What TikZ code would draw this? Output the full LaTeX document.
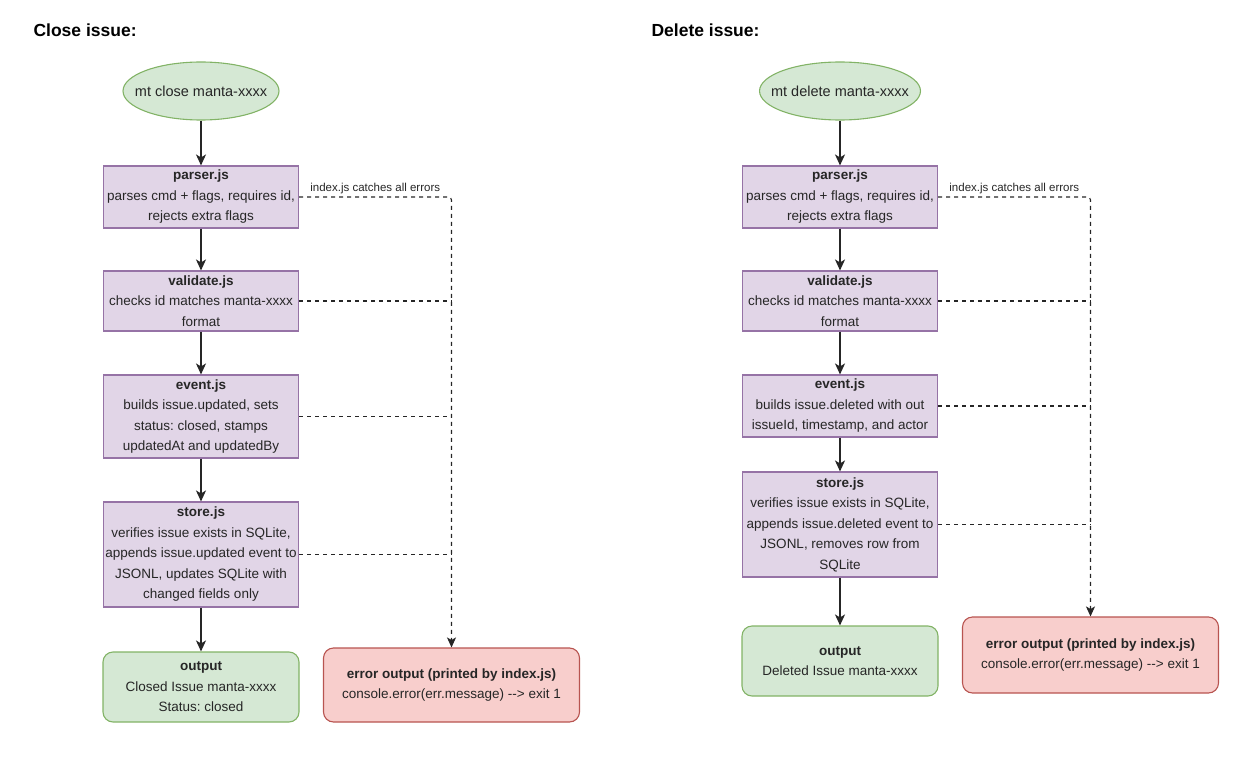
\documentclass[tikz,border=0pt]{standalone}
\usepackage{fontspec}
\setmainfont{Liberation Sans}
\usetikzlibrary{arrows.meta,shapes.geometric}
\frenchspacing

\definecolor{procfill}{HTML}{E1D5E7}
\definecolor{procline}{HTML}{9673A6}
\definecolor{okfill}{HTML}{D5E8D4}
\definecolor{okline}{HTML}{82B366}
\definecolor{errfill}{HTML}{F8CECC}
\definecolor{errline}{HTML}{B85450}
\definecolor{txt}{HTML}{262626}

\tikzset{
  body/.style={font=\fontsize{13.5}{20.5}\selectfont, text=txt, align=center, inner sep=2pt, line width=1.1pt},
  proc/.style={body, draw=procline, fill=procfill, minimum width=195},
  startnode/.style={body, ellipse, draw=okline, fill=okfill, minimum width=156, minimum height=58,
    inner xsep=-12pt, inner ysep=0pt, font=\fontsize{14.5}{17}\selectfont},
  outbox/.style={body, draw=okline, fill=okfill, rounded corners=10pt, minimum width=196},
  errbox/.style={body, draw=errline, fill=errfill, rounded corners=10pt, minimum width=256},
  flow/.style={-{Stealth[length=11pt,width=10pt,inset=3pt]}, line width=1.5pt, black!85},
  catch/.style={dash pattern=on 4pt off 4pt, line width=1.1pt, black!85},
  heading/.style={font=\fontsize{17.5}{20}\selectfont\bfseries, anchor=west},
  note/.style={font=\fontsize{11.5}{13}\selectfont, text=txt, above, inner sep=3pt}
}

\begin{document}
\begin{tikzpicture}[x=1pt, y={(0pt,-1pt)}]
    \useasboundingbox (0,0) rectangle (1244,762);

    % ---------------- close issue ----------------
    \node[heading] (ctitle) at (30,30) {Close issue:};
    \node[startnode] (cstart) at (201,91) {mt close manta-xxxx};
    \node[proc, minimum height=62] (cparser) at (201,197)
        {\textbf{parser.js}\\parses cmd + flags, requires id,\\rejects extra flags};
    \node[proc, minimum height=60] (cvalidate) at (201,301)
        {\textbf{validate.js}\\checks id matches manta-xxxx\\format};
    \node[proc, minimum height=83] (cevent) at (201,416.5)
        {\textbf{event.js}\\builds issue.updated, sets\\status: closed, stamps\\updatedAt and updatedBy};
    \node[proc, minimum height=105] (cstore) at (201,554.5)
        {\textbf{store.js}\\verifies issue exists in SQLite,\\appends issue.updated event to\\JSONL, updates SQLite with\\changed fields only};
    \node[outbox, minimum height=70] (cout) at (201,687)
        {\textbf{output}\\Closed Issue manta-xxxx\\Status: closed};
    \node[errbox, minimum height=74] (cerr) at (451.5,685)
        {\textbf{error output (printed by index.js)}\\console.error(err.message) {-}{-}> exit 1};

    \draw[flow] (cstart) -- (cparser);
    \draw[flow] (cparser) -- (cvalidate);
    \draw[flow] (cvalidate) -- (cevent);
    \draw[flow] (cevent) -- (cstore);
    \draw[flow] (cstore) -- (cout);

    % errors go to index.js
    \draw[catch, rounded corners=3pt, -{Stealth[length=10pt,width=9pt,inset=2.5pt]}]
        (cparser.east) -| node[note, pos=0.25] {index.js catches all errors} (cerr.north);
    \foreach \n in {cvalidate,cevent,cstore}
        \draw[catch] (\n.east) -- (\n.east -| cerr.north);

    % ---------------- delete issue ----------------
    \node[heading] (dtitle) at (648,30) {Delete issue:};
    \node[startnode] (dstart) at (840,91) {mt delete manta-xxxx};
    \node[proc, minimum height=62] (dparser) at (840,197)
        {\textbf{parser.js}\\parses cmd + flags, requires id,\\rejects extra flags};
    \node[proc, minimum height=60] (dvalidate) at (840,301)
        {\textbf{validate.js}\\checks id matches manta-xxxx\\format};
    \node[proc, minimum height=62] (devent) at (840,406)
        {\textbf{event.js}\\builds issue.deleted with out\\issueId, timestamp, and actor};
    \node[proc, minimum height=105] (dstore) at (840,524.5)
        {\textbf{store.js}\\verifies issue exists in SQLite,\\appends issue.deleted event to\\JSONL, removes row from\\SQLite};
    \node[outbox, minimum height=70] (dout) at (840,661)
        {\textbf{output}\\Deleted Issue manta-xxxx};
    \node[errbox, minimum height=76] (derr) at (1090.5,655)
        {\textbf{error output (printed by index.js)}\\console.error(err.message) {-}{-}> exit 1};

    \draw[flow] (dstart) -- (dparser);
    \draw[flow] (dparser) -- (dvalidate);
    \draw[flow] (dvalidate) -- (devent);
    \draw[flow] (devent) -- (dstore);
    \draw[flow] (dstore) -- (dout);

    % errors go to index.js
    \draw[catch, rounded corners=3pt, -{Stealth[length=10pt,width=9pt,inset=2.5pt]}]
        (dparser.east) -| node[note, pos=0.25] {index.js catches all errors} (derr.north);
    \foreach \n in {dvalidate,devent,dstore}
        \draw[catch] (\n.east) -- (\n.east -| derr.north);
\end{tikzpicture}
\end{document}
